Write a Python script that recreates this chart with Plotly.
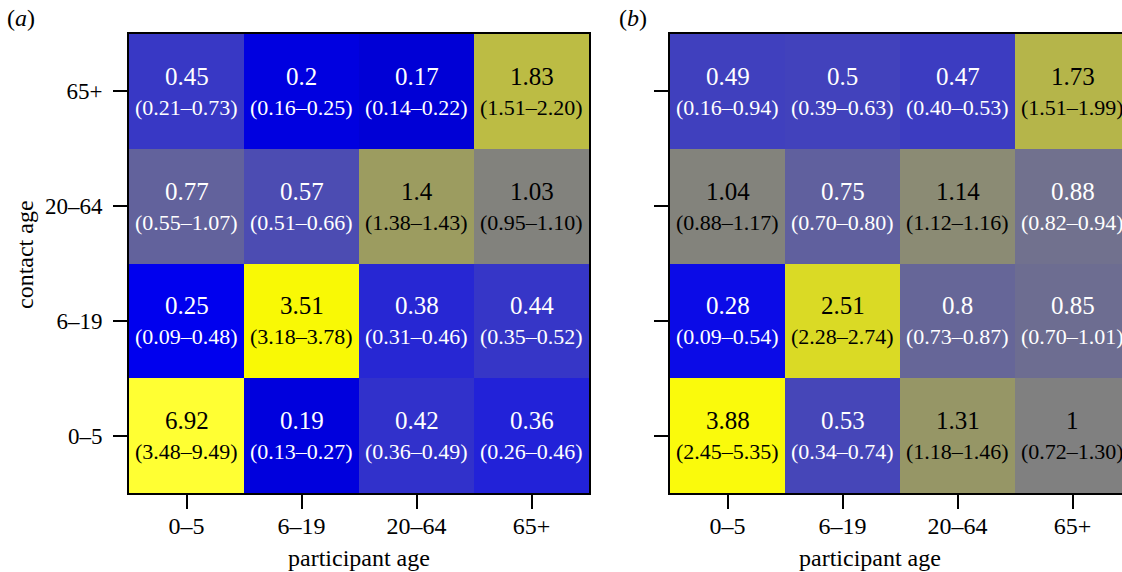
import math
import plotly.graph_objects as go

# ---------------- data ----------------
participant_age = ["0–5", "6–19", "20–64", "65+"]
contact_age = ["0–5", "6–19", "20–64", "65+"]  # bottom to top

# panel (a): rows = contact age (bottom->top), cols = participant age
a_value = [
    [6.92, 0.19, 0.42, 0.36],
    [0.25, 3.51, 0.38, 0.44],
    [0.77, 0.57, 1.4, 1.03],
    [0.45, 0.2, 0.17, 1.83],
]
a_low = [
    [3.48, 0.13, 0.36, 0.26],
    [0.09, 3.18, 0.31, 0.35],
    [0.55, 0.51, 1.38, 0.95],
    [0.21, 0.16, 0.14, 1.51],
]
a_high = [
    [9.49, 0.27, 0.49, 0.46],
    [0.48, 3.78, 0.46, 0.52],
    [1.07, 0.66, 1.43, 1.10],
    [0.73, 0.25, 0.22, 2.20],
]

# panel (b)
b_value = [
    [3.88, 0.53, 1.31, 1],
    [0.28, 2.51, 0.8, 0.85],
    [1.04, 0.75, 1.14, 0.88],
    [0.49, 0.5, 0.47, 1.73],
]
b_low = [
    [2.45, 0.34, 1.18, 0.72],
    [0.09, 2.28, 0.73, 0.70],
    [0.88, 0.70, 1.12, 0.82],
    [0.16, 0.39, 0.40, 1.51],
]
b_high = [
    [5.35, 0.74, 1.46, 1.30],
    [0.54, 2.74, 0.87, 1.01],
    [1.17, 0.80, 1.16, 0.94],
    [0.94, 0.63, 0.53, 1.99],
]

# ---------------- style ----------------
W, H = 1122, 572
FONT = "Liberation Serif"

# blue - grey - yellow colour scale on log10 of the ratio
scale_stops = [
    (0.17, "#0000d6"), (0.25, "#0000ee"), (0.36, "#2222d8"), (0.50, "#4242bc"),
    (0.77, "#62629c"), (1.00, "#808080"), (1.40, "#9c9c60"), (1.83, "#bcbc44"),
    (3.50, "#f9f905"), (6.92, "#ffff33"),
]
zmin = math.log10(scale_stops[0][0])
zmax = math.log10(scale_stops[-1][0])
colorscale = [[(math.log10(v) - zmin) / (zmax - zmin), c] for v, c in scale_stops]


def px_x(x):
    return x / W


def px_y(y):
    return 1 - y / H


fig = go.Figure()

panels = [
    ("x", "y", a_value, a_low, a_high),
    ("x2", "y2", b_value, b_low, b_high),
]

for xa, ya, val, lo, hi in panels:
    z = [[math.log10(v) for v in row] for row in val]
    fig.add_trace(go.Heatmap(
        x=participant_age, y=contact_age, z=z,
        colorscale=colorscale, zmin=zmin, zmax=zmax, showscale=False,
        xaxis=xa, yaxis=ya, hoverinfo="skip",
    ))
    for i, cy in enumerate(contact_age):
        for j, cx in enumerate(participant_age):
            v = val[i][j]
            col = "white" if v < 1 else "black"
            fig.add_annotation(
                x=cx, y=cy, xref=xa, yref=ya, text=f"{v:g}", showarrow=False,
                font=dict(family=FONT, size=25, color=col), yshift=15,
            )
            fig.add_annotation(
                x=cx, y=cy, xref=xa, yref=ya,
                text=f"({lo[i][j]:.2f}–{hi[i][j]:.2f})", showarrow=False,
                font=dict(family=FONT, size=22, color=col), yshift=-16,
            )

axis_common = dict(
    showline=True, linecolor="black", linewidth=2,
    ticks="outside", ticklen=14, tickwidth=2, tickcolor="black",
    tickfont=dict(family=FONT, size=24, color="black"),
    showgrid=False, zeroline=False, fixedrange=True,
)

y_dom = [px_y(493), px_y(34)]

fig.update_layout(
    width=W, height=H,
    margin=dict(l=0, r=0, t=0, b=0),
    paper_bgcolor="white", plot_bgcolor="white",
    font=dict(family=FONT, color="black"),
    xaxis=dict(domain=[px_x(129), px_x(589)], range=[-0.5, 3.5], mirror=True,
               ticklabelstandoff=-4, anchor="y", **axis_common),
    yaxis=dict(domain=y_dom, range=[-0.5, 3.5], mirror=True,
               ticklabelstandoff=6, anchor="x", **axis_common),
    xaxis2=dict(domain=[px_x(670), 1.0],
                range=[-0.5, -0.5 + (W - 670) / 115.0], mirror=True,
                ticklabelstandoff=-4, anchor="y2", **axis_common),
    yaxis2=dict(domain=y_dom, range=[-0.5, 3.5], mirror=False,
                showticklabels=False, anchor="x2", **axis_common),
)
fig.update_yaxes(tickfont=dict(family=FONT, size=23, color="black"))

# axis titles and panel labels
titles = [
    ("participant age", 359, 558, 0),
    ("participant age", 870, 558, 0),
    ("contact age", 25, 255, -90),
    ("(<i>a</i>)", 21, 18, 0),
    ("(<i>b</i>)", 633, 18, 0),
]
for txt, x, y, ang in titles:
    fig.add_annotation(
        x=px_x(x), y=px_y(y), xref="paper", yref="paper", text=txt,
        showarrow=False, textangle=ang, xanchor="center", yanchor="middle",
        font=dict(family=FONT, size=24, color="black"),
    )

fig.write_html(
    "out.html",
    config={"displayModeBar": False},
    post_script="document.body.style.margin='0';document.body.style.overflow='hidden';",
)
